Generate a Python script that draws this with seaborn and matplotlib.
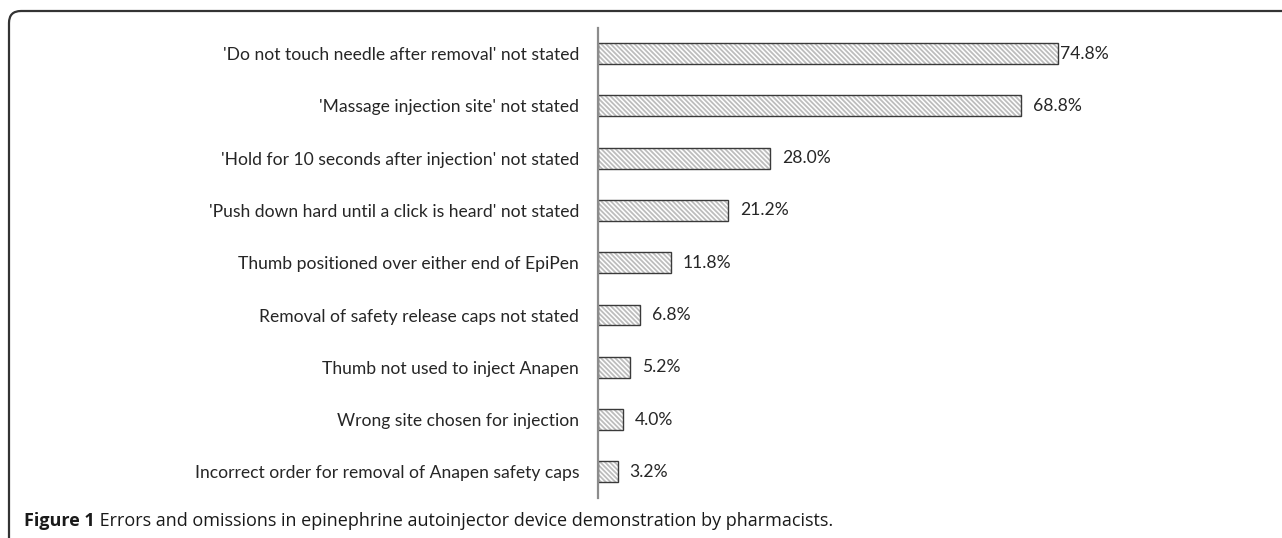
import matplotlib
matplotlib.use("Agg")
import matplotlib.pyplot as plt
from matplotlib.patches import FancyBboxPatch
import seaborn as sns
import pandas as pd

categories = [
    "'Do not touch needle after removal' not stated",
    "'Massage injection site' not stated",
    "'Hold for 10 seconds after injection' not stated",
    "'Push down hard until a click is heard' not stated",
    "Thumb positioned over either end of EpiPen",
    "Removal of safety release caps not stated",
    "Thumb not used to inject Anapen",
    "Wrong site chosen for injection",
    "Incorrect order for removal of Anapen safety caps",
]
values = [74.8, 68.8, 28.0, 21.2, 11.8, 6.8, 5.2, 4.0, 3.2]
value_labels = ["74.8%", "68.8%", "28.0%", "21.2%", "11.8%", "6.8%", "5.2%", "4.0%", "3.2%"]
caption_bold = "Figure 1"
caption_text = " Errors and omissions in epinephrine autoinjector device demonstration by pharmacists."

df = pd.DataFrame({"category": categories, "value": values})

sns.set_theme(style="white")
plt.rcParams["font.family"] = ["Lato", "DejaVu Sans"]
plt.rcParams["hatch.linewidth"] = 1.3

W, H, DPI = 1282, 538, 100
fig = plt.figure(figsize=(W / DPI, H / DPI), dpi=DPI)
fig.patch.set_facecolor("white")

ax_left = 598 / W
ax_bottom = 1 - 498 / H
ax_top = 1 - 27.5 / H
px_per_pct = 6.15
ax_width = 80 * px_per_pct / W
ax = fig.add_axes([ax_left, ax_bottom, ax_width, ax_top - ax_bottom])

# hatched fill
sns.barplot(data=df, x="value", y="category", orient="h", ax=ax,
            color="white", width=0.4, edgecolor="#bdbdbd", linewidth=0,
            hatch="\\" * 7, saturation=1)
# outline
sns.barplot(data=df, x="value", y="category", orient="h", ax=ax,
            fill=False, width=0.4, edgecolor="#3a3a3a", linewidth=1.0)

ax.set_xlim(0, 80)
ax.set_xlabel("")
ax.set_ylabel("")
ax.set_xticks([])
for s in ["top", "right", "bottom"]:
    ax.spines[s].set_visible(False)
ax.spines["left"].set_color("#8c8c8c")
ax.spines["left"].set_linewidth(1.6)
ax.tick_params(axis="y", length=0, pad=13.5, labelsize=12.6, labelcolor="#262626")

for i, (v, lab) in enumerate(zip(values, value_labels)):
    off = 1.5 if i == 0 else 8.5
    ax.annotate(lab, xy=(v, i), xytext=(off, 0), textcoords="offset points",
                ha="left", va="center", fontsize=12.6, color="#262626")

t1 = fig.text(24 / W, 1 - 521 / H, caption_bold, fontsize=13, fontweight="bold",
              va="center", ha="left", color="#1a1a1a",
              family=["Open Sans", "DejaVu Sans"])
ax.annotate(caption_text, xy=(1, 0.5), xycoords=t1, va="center", ha="left",
            fontsize=13, color="#1a1a1a", family=["Open Sans", "DejaVu Sans"],
            annotation_clip=False)

frame = FancyBboxPatch((9, -60), W + 100, H - 11 + 60,
                       boxstyle="round,pad=0,rounding_size=12",
                       transform=None, fill=False, edgecolor="#333333",
                       linewidth=1.6, clip_on=False)
fig.patches.append(frame)

fig.savefig("out.png", dpi=DPI, facecolor="white")
